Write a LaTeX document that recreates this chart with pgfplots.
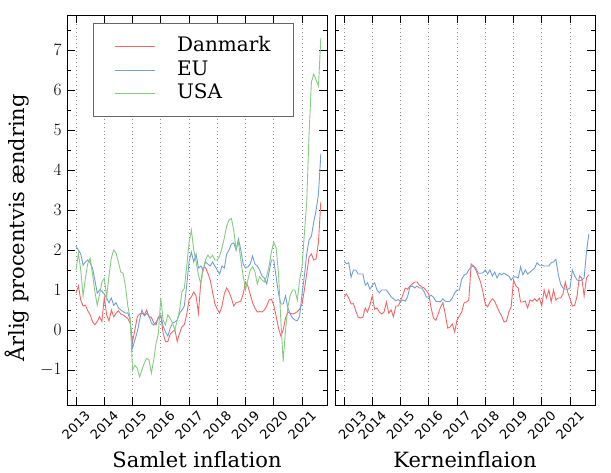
\documentclass[border=0pt]{standalone}
\usepackage{fontspec}
\setmainfont{DejaVu Serif}
\newfontfamily\dvsans{DejaVu Sans}
\usepackage{pgfplots}
\usepackage{pgfplotstable}
\pgfplotsset{compat=1.18}

\definecolor{cdk}{RGB}{242,102,104}
\definecolor{ceu}{RGB}{112,160,210}
\definecolor{cus}{RGB}{132,204,130}

\pgfplotstableread{
m dk eu us
0 0.92 2.10 1.50
1 1.10 2.00 1.92
2 0.75 1.90 1.50
3 0.60 1.62 0.85
4 0.62 1.70 1.30
5 0.48 1.75 1.67
6 0.38 1.68 1.79
7 0.21 1.55 1.40
8 0.13 1.25 0.96
9 0.21 0.92 0.62
10 0.33 1.00 0.90
11 0.21 0.97 1.20
12 0.82 0.90 1.29
13 0.38 0.80 0.83
14 0.23 0.68 1.35
15 0.50 0.80 1.80
16 0.33 0.62 2.00
17 0.42 0.68 1.92
18 0.48 0.55 1.70
19 0.40 0.50 1.45
20 0.38 0.46 1.42
21 0.33 0.42 1.10
22 0.29 0.43 0.60
23 0.17 0.25 0.30
24 -0.29 -0.45 -1.00
25 0.00 -0.25 -0.88
26 0.33 -0.05 -0.96
27 0.40 0.25 -1.17
28 0.42 0.50 -1.00
29 0.38 0.35 -0.83
30 0.50 0.42 -0.71
31 0.33 0.35 -0.75
32 0.32 0.18 -1.08
33 0.18 0.12 -0.75
34 0.13 0.20 -0.33
35 0.33 0.30 -0.08
36 0.37 0.37 0.79
37 -0.08 0.10 0.25
38 -0.29 -0.05 0.13
39 -0.29 -0.15 0.38
40 -0.10 0.05 0.29
41 -0.04 0.17 0.17
42 0.00 0.20 0.00
43 -0.29 0.25 0.25
44 -0.08 0.42 0.50
45 0.08 0.50 0.96
46 0.13 0.60 1.04
47 0.38 1.10 1.58
48 0.75 1.70 2.17
49 0.83 1.95 2.50
50 0.95 1.70 2.00
51 0.85 1.90 1.71
52 0.42 1.55 1.37
53 1.20 1.60 1.15
54 1.55 1.50 1.50
55 1.56 1.70 1.75
56 1.42 1.65 1.87
57 1.25 1.60 1.80
58 0.95 1.70 1.87
59 0.65 1.60 1.75
60 0.52 1.50 1.75
61 0.42 1.40 1.85
62 0.60 1.60 2.05
63 0.90 1.55 2.30
64 1.05 1.90 2.60
65 0.95 2.00 2.75
66 0.80 2.15 2.79
67 0.60 2.18 2.50
68 0.68 2.00 2.00
69 0.70 2.28 2.20
70 0.72 2.00 1.75
71 0.90 1.65 1.35
72 1.20 1.55 1.00
73 1.10 1.58 1.25
74 0.90 1.65 1.50
75 0.68 1.85 1.58
76 0.55 1.65 1.46
77 0.45 1.60 1.15
78 0.46 1.50 1.33
79 0.45 1.35 1.25
80 0.50 1.30 1.20
81 0.60 1.15 1.35
82 0.75 1.45 1.60
83 0.77 1.75 1.95
84 0.62 1.75 2.20
85 0.35 1.33 2.05
86 0.05 0.92 1.42
87 -0.15 0.65 0.25
88 0.00 0.65 -0.79
89 0.30 0.85 0.00
90 0.45 0.55 0.58
91 0.42 0.40 0.87
92 0.40 0.30 1.00
93 0.42 0.25 1.00
94 0.46 0.23 0.75
95 0.52 0.35 1.25
96 0.65 0.90 1.58
97 1.00 1.35 2.40
98 1.42 1.90 3.20
99 1.82 2.25 4.90
100 1.90 2.35 6.20
101 1.75 2.70 6.40
102 1.78 3.00 6.25
103 2.20 3.40 6.10
104 3.20 4.40 7.30
}\headline

\pgfplotstableread{
m dk eu
0 0.82 1.71
1 0.90 1.66
2 0.80 1.68
3 0.65 1.32
4 0.66 1.50
5 0.48 1.50
6 0.32 1.40
7 0.30 1.40
8 0.32 1.40
9 0.55 1.12
10 0.45 1.18
11 0.62 1.02
12 0.85 1.12
13 0.52 1.18
14 0.55 1.00
15 0.45 0.93
16 0.40 1.00
17 0.45 1.00
18 0.70 1.00
19 0.42 0.92
20 0.50 0.83
21 0.33 0.78
22 0.60 0.73
23 0.60 0.76
24 0.72 0.71
25 0.88 0.75
26 1.05 0.72
27 1.02 0.83
28 1.10 1.08
29 1.15 1.10
30 1.20 1.05
31 1.20 1.10
32 1.12 1.05
33 1.08 1.05
34 1.05 0.96
35 0.98 0.82
36 0.90 0.83
37 0.55 0.87
38 0.30 0.82
39 0.24 0.72
40 0.40 0.71
41 0.57 0.71
42 0.68 0.78
43 0.40 0.72
44 0.05 0.71
45 0.07 0.72
46 0.15 0.80
47 -0.05 0.93
48 0.25 1.00
49 0.35 1.00
50 0.45 1.27
51 0.68 1.37
52 0.70 1.40
53 0.75 1.50
54 1.65 1.58
55 1.60 1.60
56 1.50 1.55
57 1.35 1.42
58 1.20 1.42
59 0.95 1.43
60 0.65 1.50
61 0.58 1.40
62 0.70 1.50
63 0.78 1.35
64 0.72 1.45
65 0.58 1.30
66 0.45 1.42
67 0.35 1.38
68 0.20 1.42
69 0.22 1.38
70 0.45 1.35
71 0.58 1.25
72 1.25 1.33
73 1.10 1.33
74 1.05 1.30
75 0.70 1.58
76 0.70 1.38
77 0.72 1.50
78 0.55 1.40
79 0.75 1.45
80 0.72 1.50
81 0.78 1.55
82 0.72 1.68
83 0.80 1.62
84 0.60 1.62
85 1.00 1.60
86 0.80 1.60
87 1.00 1.60
88 0.70 1.68
89 1.00 1.70
90 0.75 1.77
91 0.80 1.40
92 0.80 1.15
93 0.90 1.05
94 1.20 1.02
95 0.95 1.02
96 0.78 1.05
97 0.60 1.50
98 0.62 1.35
99 0.85 1.25
100 1.35 1.23
101 1.30 1.25
102 0.85 1.30
103 1.30 1.95
104 1.38 2.40
}\core

\pgfplotsset{
  panel/.style={
    scale only axis, width=260pt, height=390pt,
    xmin=2012.68, xmax=2021.885, ymin=-1.875, ymax=7.875,
    xtick={2013,2014,2015,2016,2017,2018,2019,2020,2021},
    ytick={-1,0,1,2,3,4,5,6,7},
    minor ytick={-1.5,-0.5,0.5,1.5,2.5,3.5,4.5,5.5,6.5,7.5},
    tick align=inside, major tick length=8pt, minor tick length=4pt,
    xmajorgrids, grid style={black!45, line width=0.7pt, dash pattern=on 0.8pt off 3pt},
    axis line style={line width=0.9pt},
    every tick/.style={black, line width=0.8pt},
    xticklabel style={font=\dvsans\fontsize{13}{13}\selectfont, yshift=-20pt, rotate=45, anchor=center},
    yticklabel style={font=\fontsize{17.28}{18}\selectfont, xshift=-2pt},
    xlabel style={at={(axis description cs:0.5,0)}, anchor=base, yshift=-62pt, font=\fontsize{21}{21}\selectfont},
    every axis plot/.append style={line width=0.9pt, mark=none},
  }
}

\begin{document}
\begin{tikzpicture}
\useasboundingbox (0,0) rectangle (611pt,472pt);
\begin{axis}[panel, at={(67pt,67pt)}, anchor=south west,
  xticklabels={2013,2014,2015,2016,2017,2018,2019,2020,2021},
  xlabel={Samlet inflation},
  ylabel={Årlig procentvis ændring},
  ylabel style={at={(axis description cs:-0.192,0.454)}, anchor=center, font=\fontsize{21}{21}\selectfont},
  legend style={at={(0,1)}, anchor=north west, xshift=25.7pt, yshift=-8.3pt,
    draw=black!60, line width=1pt, fill=white,
    font=\fontsize{20}{24}\selectfont, inner xsep=21pt, inner ysep=11pt,
    cells={anchor=west},
    nodes={inner sep=2pt, text height=15pt, text depth=4.5pt},
    /tikz/every odd column/.style={column sep=20pt}},
  legend image code/.code={\draw[#1, line width=0.9pt] (0pt,0pt) -- (40pt,0pt);},
]
\addplot[cdk] table[x expr=2013+\thisrow{m}/12, y=dk]{\headline};
\addplot[ceu] table[x expr=2013+\thisrow{m}/12, y=eu]{\headline};
\addplot[cus] table[x expr=2013+\thisrow{m}/12, y=us]{\headline};
\legend{Danmark, EU, USA}
\end{axis}
\begin{axis}[panel, at={(335pt,67pt)}, anchor=south west,
  xticklabels={{},2014,2015,2016,2017,2018,2019,2020,2021},
  extra x ticks={2013.3}, extra x tick labels={2013},
  extra x tick style={major tick length=0pt, grid=none},
  yticklabels={},
  xlabel={Kerneinflaion},
]
\addplot[cdk] table[x expr=2013+\thisrow{m}/12, y=dk]{\core};
\addplot[ceu] table[x expr=2013+\thisrow{m}/12, y=eu]{\core};
\end{axis}
\end{tikzpicture}
\end{document}
